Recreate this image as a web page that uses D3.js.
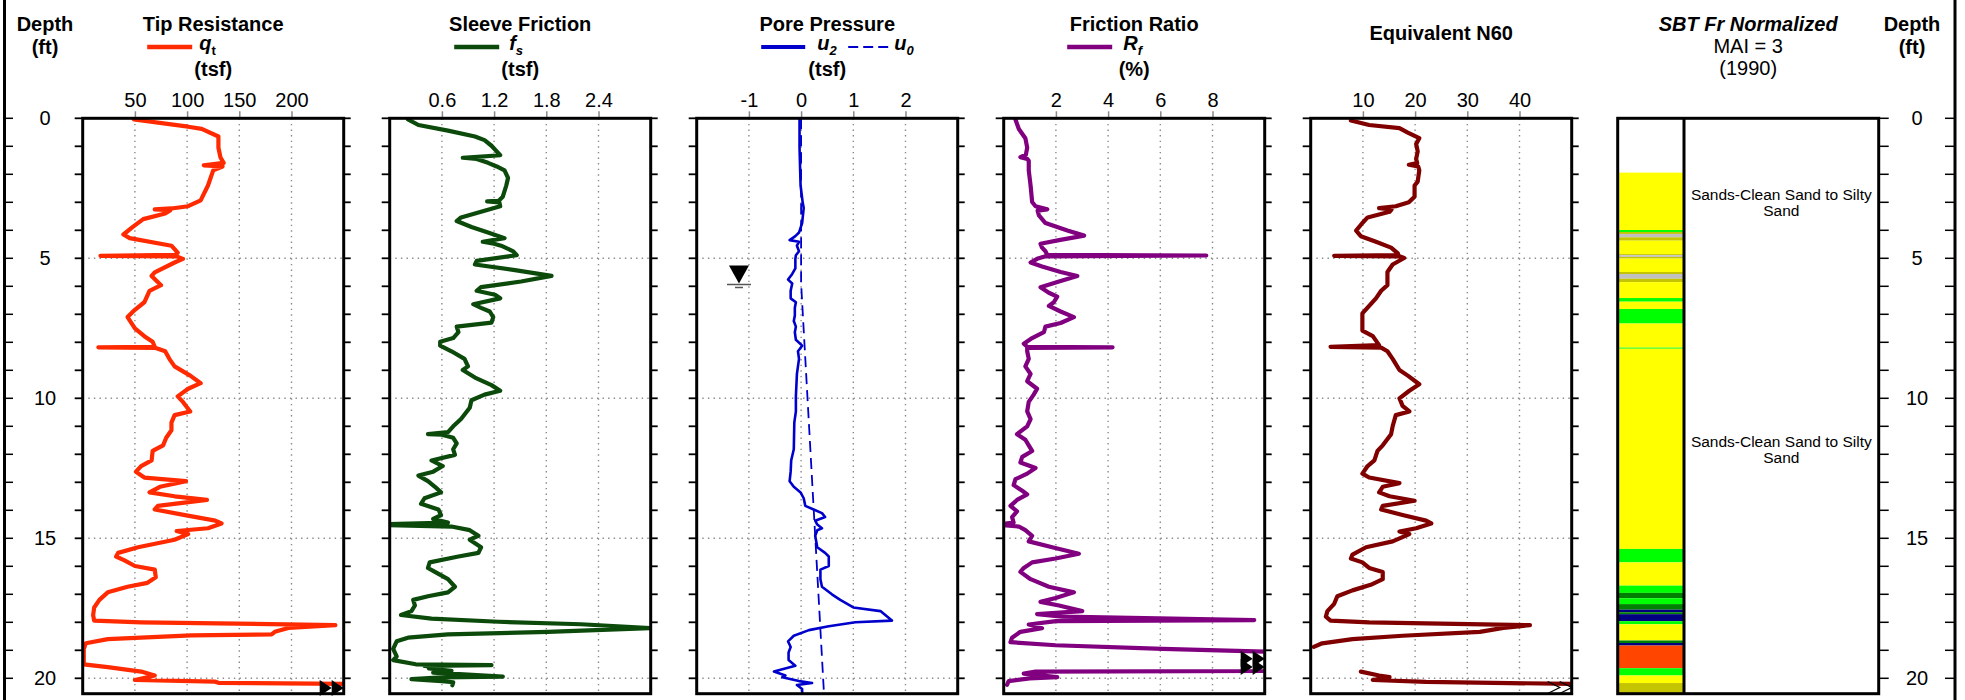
<!DOCTYPE html>
<html><head><meta charset="utf-8">
<script src="https://cdn.jsdelivr.net/npm/d3@7"></script>
<style>
body{margin:0;background:#fff}
svg{display:block}
text{font-family:"Liberation Sans",Arial,sans-serif;fill:#000}
</style>
</head><body>
<svg id="c" width="1965" height="700"></svg>
<script>
// ---------------- DATA ----------------
const depthTickLabels = [0, 5, 10, 15, 20];
const depthMax = 20.55;
const waterTableDepth = 5.9;

const panelTitles = ["Tip Resistance", "Sleeve Friction", "Pore Pressure", "Friction Ratio", "Equivalent N60"];
const panelUnits  = ["(tsf)", "(tsf)", "(tsf)", "(%)", ""];
const xDomains    = [[0, 250], [0, 3], [-2, 3], [0, 10], [0, 50]];
const qtTicks  = [50, 100, 150, 200];
const fsTicks  = [0.6, 1.2, 1.8, 2.4];
const u2Ticks  = [-1, 0, 1, 2];
const rfTicks  = [2, 4, 6, 8];
const n60Ticks = [10, 20, 30, 40];

// [depth ft, value]
const qt = [[0.04,49],[0.3,101],[0.38,114],[0.65,130],[1.05,130],[1.4,132],[1.59,135],[1.68,116],[1.72,134],[1.86,125],[2.4,120],[2.93,113],[3.14,101],[3.22,85],[3.25,69],[3.28,84],[3.4,79],[3.6,58],[3.88,48],[4.15,39],[4.28,45],[4.55,85],[4.8,91],[4.88,88],[4.91,17],[4.93,90],[5.02,96],[5.15,88],[5.5,69],[5.63,66],[5.96,75],[6.16,64],[6.57,59],[6.84,50],[7.1,43],[7.5,50],[7.78,59],[7.98,67],[8.16,69],[8.18,15],[8.2,70],[8.32,79],[8.59,83],[8.86,88],[9.19,103],[9.46,113],[9.66,101],[9.93,91],[10.13,96],[10.47,103],[10.6,88],[10.87,85],[11.14,85],[11.41,80],[11.68,77],[11.88,67],[12.22,66],[12.42,56],[12.62,51],[12.83,59],[12.96,99],[13.16,74],[13.36,64],[13.5,88],[13.63,119],[13.84,72],[13.97,69],[14.17,98],[14.37,127],[14.47,133],[14.64,120],[14.74,90],[14.85,101],[15.05,88],[15.32,53],[15.52,34],[15.65,32],[15.79,40],[15.99,50],[16.12,69],[16.39,70],[16.59,62],[16.73,43],[16.93,24],[17.2,16],[17.47,11],[17.74,10],[17.94,11],[18.0,56],[18.1,242],[18.2,197],[18.34,184],[18.43,181],[18.47,104],[18.6,24],[18.75,3],[18.95,1],[19.5,1],[19.6,24],[19.76,56],[19.9,69],[20.06,50],[20.12,127],[20.16,130],[20.2,250],[20.35,300]];

const fs = [[0.04,0.21],[0.24,0.33],[0.44,0.67],[0.65,0.98],[0.78,1.09],[0.98,1.17],[1.18,1.23],[1.32,1.27],[1.41,0.84],[1.45,1.0],[1.59,1.13],[1.72,1.23],[1.86,1.32],[2.13,1.36],[2.4,1.34],[2.8,1.30],[2.95,1.25],[2.97,1.12],[3.0,1.26],[3.14,1.27],[3.34,1.05],[3.54,0.82],[3.67,0.77],[3.88,0.94],[4.08,1.13],[4.28,1.32],[4.41,1.07],[4.48,1.2],[4.55,1.28],[4.75,1.42],[4.89,1.46],[5.09,1.0],[5.22,0.98],[5.42,1.44],[5.63,1.86],[5.83,1.51],[6.03,1.05],[6.16,1.0],[6.3,1.21],[6.43,1.27],[6.64,0.96],[6.77,1.05],[6.9,1.15],[7.1,1.19],[7.3,1.17],[7.44,0.77],[7.64,0.79],[7.85,0.73],[7.98,0.58],[8.12,0.58],[8.32,0.71],[8.59,0.86],[8.86,0.90],[8.99,0.84],[9.26,0.98],[9.53,1.17],[9.73,1.27],[9.87,1.09],[10.07,0.94],[10.34,0.92],[10.74,0.82],[11.0,0.73],[11.21,0.67],[11.28,0.44],[11.3,0.6],[11.41,0.73],[11.61,0.77],[11.82,0.73],[12.02,0.75],[12.22,0.48],[12.42,0.61],[12.62,0.50],[12.76,0.33],[12.96,0.44],[13.16,0.52],[13.36,0.59],[13.57,0.40],[13.77,0.36],[13.97,0.56],[14.17,0.59],[14.31,0.50],[14.44,0.67],[14.5,-0.1],[14.52,-0.1],[14.58,0.71],[14.71,0.92],[14.91,1.02],[15.05,0.92],[15.32,1.05],[15.52,1.02],[15.65,0.79],[15.86,0.46],[16.06,0.44],[16.2,0.52],[16.46,0.67],[16.73,0.75],[16.93,0.67],[17.07,0.44],[17.2,0.27],[17.4,0.29],[17.6,0.25],[17.74,0.13],[17.87,0.48],[17.98,1.25],[18.07,2.2],[18.21,2.99],[18.34,1.82],[18.43,0.67],[18.55,0.21],[18.68,0.08],[18.95,0.04],[19.22,0.08],[19.35,0.04],[19.5,0.3],[19.53,1.17],[19.56,0.4],[19.6,0.56],[19.65,0.45],[19.73,0.71],[19.8,0.5],[19.94,1.3],[19.97,0.6],[20.03,0.25],[20.1,0.6],[20.14,0.73],[20.25,0.72]];

const u2 = [[0.04,-0.03],[1.05,-0.03],[2.4,-0.01],[3.0,0.03],[3.2,0.05],[3.74,0.02],[4.08,-0.04],[4.21,-0.11],[4.35,-0.22],[4.41,-0.04],[4.55,-0.08],[4.75,-0.04],[4.89,-0.1],[5.02,-0.11],[5.36,-0.11],[5.56,-0.17],[5.76,-0.25],[5.9,-0.17],[6.16,-0.2],[6.43,-0.2],[6.57,-0.1],[6.77,-0.12],[7.04,-0.12],[7.24,-0.14],[7.44,-0.1],[7.64,-0.12],[7.91,-0.1],[8.12,0.02],[8.32,-0.06],[8.59,-0.04],[9.13,-0.08],[9.93,-0.1],[10.47,-0.1],[10.87,-0.13],[11.82,-0.14],[12.22,-0.19],[12.62,-0.2],[12.96,-0.22],[13.16,-0.14],[13.36,-0.01],[13.57,0.05],[13.84,0.08],[13.97,0.24],[14.1,0.4],[14.24,0.46],[14.37,0.27],[14.51,0.31],[14.64,0.4],[14.71,0.31],[14.91,0.27],[15.32,0.31],[15.52,0.46],[15.65,0.53],[15.99,0.53],[16.12,0.37],[16.46,0.37],[16.73,0.4],[17.0,0.59],[17.2,0.75],[17.47,1.0],[17.6,1.52],[17.94,1.74],[18.0,1.04],[18.14,0.53],[18.28,0.15],[18.48,-0.14],[18.68,-0.25],[18.88,-0.2],[19.08,-0.24],[19.35,-0.24],[19.55,-0.11],[19.76,-0.52],[19.9,-0.3],[19.96,-0.36],[20.1,-0.04],[20.17,0.21],[20.24,-0.08],[20.38,0.02],[20.6,0.02]];

const u0 = [[0,0],[5.9,0],[20.6,0.44]];

const rf = [[0.04,0.45],[0.38,0.58],[0.71,0.83],[1.05,0.9],[1.3,0.85],[1.39,0.64],[1.45,0.9],[1.52,0.96],[1.86,0.96],[2.4,1.03],[2.99,1.09],[3.14,1.22],[3.25,1.67],[3.3,1.3],[3.47,1.35],[3.74,1.6],[4.01,2.44],[4.19,3.08],[4.35,2.12],[4.48,1.41],[4.62,1.47],[4.75,1.6],[4.88,1.67],[4.9,7.76],[4.93,1.6],[5.02,1.28],[5.15,1.03],[5.29,1.47],[5.49,2.18],[5.63,2.82],[5.83,2.12],[6.03,1.41],[6.23,1.73],[6.37,2.05],[6.57,1.92],[6.7,1.73],[6.9,2.18],[7.1,2.69],[7.31,2.18],[7.44,1.6],[7.64,1.54],[7.85,1.09],[8.05,0.77],[8.16,0.9],[8.18,4.17],[8.2,0.9],[8.32,0.9],[8.59,0.96],[8.86,0.83],[9.13,1.03],[9.39,0.9],[9.66,1.28],[9.87,1.15],[10.13,0.96],[10.47,0.9],[10.74,1.03],[11.0,0.9],[11.28,0.51],[11.48,0.83],[11.68,0.96],[11.88,1.09],[12.09,0.71],[12.29,0.64],[12.49,1.22],[12.69,0.9],[12.89,0.45],[13.1,0.38],[13.3,0.71],[13.43,0.9],[13.63,0.51],[13.84,0.26],[14.04,0.51],[14.24,0.32],[14.44,0.38],[14.5,-0.2],[14.52,-0.2],[14.58,0.58],[14.71,0.83],[14.91,1.09],[15.11,0.96],[15.32,1.86],[15.55,2.88],[15.72,1.99],[15.86,1.09],[16.06,0.77],[16.2,0.64],[16.46,1.03],[16.73,1.73],[16.93,2.69],[17.13,1.99],[17.27,1.41],[17.4,2.12],[17.6,3.01],[17.71,1.28],[17.8,2.24],[17.92,9.6],[17.96,2.0],[18.08,0.96],[18.21,1.47],[18.34,0.64],[18.55,0.32],[18.71,0.26],[18.82,1.99],[18.95,6.09],[19.05,10.0],[19.3,11.5],[19.6,11.5],[19.74,10.0],[19.76,1.22],[19.83,0.77],[19.96,2.05],[20.0,1.0],[20.1,0.19],[20.23,0.13]];

const n60 = [[0.08,7.7],[0.24,11.2],[0.35,17],[0.51,18.6],[0.71,20.8],[0.92,20.2],[1.18,20.5],[1.45,20.2],[1.6,20.4],[1.66,18.8],[1.72,20.6],[1.86,20.8],[2.26,20.5],[2.4,19.9],[2.8,19.9],[3.0,18.8],[3.14,16.3],[3.21,13.1],[3.25,15.5],[3.34,15.1],[3.54,10.9],[3.74,9.9],[4.01,8.7],[4.21,9.6],[4.41,12.5],[4.62,15.4],[4.82,16.7],[4.89,16.8],[4.91,4.5],[4.93,17],[4.99,17.9],[5.22,15.7],[5.49,14.7],[5.96,14.7],[6.16,13.5],[6.43,12.5],[6.7,11.2],[6.97,9.9],[7.58,9.9],[7.78,11.9],[8.1,13.1],[8.16,3.8],[8.19,13.5],[8.32,14.7],[8.59,15.7],[8.99,17.0],[9.19,18.6],[9.5,20.8],[9.73,18.9],[10.0,17],[10.27,17.6],[10.47,18.9],[10.6,16.3],[11.0,15.7],[11.28,15.4],[11.68,13.8],[11.88,12.8],[12.22,12.2],[12.42,10.9],[12.69,9.9],[12.83,11.2],[13.03,17],[13.16,13.8],[13.36,13.1],[13.5,15.1],[13.66,19.9],[13.84,13.8],[13.97,13.5],[14.17,17.6],[14.37,22.1],[14.47,23.1],[14.64,20.2],[14.76,17],[14.85,18.9],[15.11,15.7],[15.32,10.6],[15.58,8],[15.72,7.7],[15.86,9.9],[16.06,11.2],[16.2,13.8],[16.46,13.8],[16.66,11.5],[16.86,8],[17.07,5.1],[17.34,4.5],[17.6,3.2],[17.8,2.9],[17.94,3.8],[18.0,11.2],[18.1,42],[18.2,36.9],[18.34,32.4],[18.48,17.6],[18.6,8],[18.75,2.2],[18.88,0.6],[18.95,null],[19.76,9.6],[19.9,13.1],[19.96,15.1],[20.06,11.9],[20.13,22.1],[20.2,50],[20.33,60]];

// SBT layers [top depth, bottom depth, zone]
const sbtLayers = [[1.94,3.99,"sand"],[3.99,4.06,"gsand"],[4.06,4.13,"smix"],[4.13,4.25,"smix2"],[4.25,4.37,"smix"],[4.37,4.85,"sand"],[4.85,4.89,"smix"],[4.89,4.95,"smix2"],[4.95,5.01,"smix"],[5.01,5.49,"sand"],[5.49,5.56,"smix"],[5.56,5.73,"smix2"],[5.73,5.85,"smix"],[5.85,6.42,"sand"],[6.42,6.55,"gsand"],[6.55,6.81,"sand"],[6.81,7.33,"gsand"],[7.33,8.19,"sand"],[8.19,8.23,"gsand"],[8.23,15.38,"sand"],[15.38,15.86,"gsand"],[15.86,16.69,"sand"],[16.69,16.95,"gsand"],[16.95,17.14,"dense"],[17.14,17.35,"gsand"],[17.35,17.55,"dense"],[17.55,17.64,"clay"],[17.64,17.71,"dense"],[17.71,17.96,"clay"],[17.96,18.07,"gsand"],[18.07,18.65,"sand"],[18.65,18.74,"dense"],[18.74,18.83,"clay"],[18.83,19.64,"organic"],[19.64,19.9,"gsand"],[19.9,20.17,"sand"],[20.17,20.6,"smix"]];
const sbtZones  = ["sand","gsand","smix","smix2","dense","clay","organic"];
const sbtColors = ["#ffff00","#00ff00","#c4c400","#c0c0c0","#008000","#000080","#ff4500"];
const sbtLabels = [[2.92, "Sands-Clean Sand to Silty", "Sand"], [11.74, "Sands-Clean Sand to Silty", "Sand"]];

// ---------------- DRAW ----------------
const svg = d3.select("#c");
const font = '"Liberation Sans",Arial,sans-serif';
const y = d3.scaleLinear().domain([0, depthMax]).range([118.3, 693.7]);
const panelW = 261, x0 = 82.7, step = 307;
const left = i => x0 + step * i;
const boxTop = y(0), boxBot = y(depthMax);
const feet = d3.range(0, 21);

const seriesList = [qt, fs, u2, rf, n60];
const tickList = [qtTicks, fsTicks, u2Ticks, rfTicks, n60Ticks];
const colors = ["#ff2a00", "#0b4a0b", "#0000cc", "#800080", "#800000"];
const widths = [4.2, 4.2, 2.6, 4.2, 4.2];

const defs = svg.append("defs");

// outer frame
svg.append("line").attr("x1", 4.5).attr("x2", 4.5).attr("y1", 0).attr("y2", 700).attr("stroke", "#000").attr("stroke-width", 3);
svg.append("line").attr("x1", 1955).attr("x2", 1955).attr("y1", 0).attr("y2", 700).attr("stroke", "#000").attr("stroke-width", 3);
svg.selectAll(".ftl").data(feet).join("line").attr("x1", 4.5).attr("x2", 13).attr("y1", d => y(d)).attr("y2", d => y(d)).attr("stroke", "#000").attr("stroke-width", 1.5);
svg.selectAll(".ftr").data(feet).join("line").attr("x1", 1945).attr("x2", 1955).attr("y1", d => y(d)).attr("y2", d => y(d)).attr("stroke", "#000").attr("stroke-width", 1.5);

// depth titles and labels
[[45, 31, "Depth"], [45, 54, "(ft)"], [1912, 31, "Depth"], [1912, 54, "(ft)"]].forEach(t => {
  svg.append("text").attr("x", t[0]).attr("y", t[1]).attr("text-anchor", "middle").attr("font-size", 20).attr("font-weight", "bold").text(t[2]);
});
depthTickLabels.forEach(d => {
  svg.append("text").attr("x", 45).attr("y", y(d) + 7).attr("text-anchor", "middle").attr("font-size", 20).text(d);
  svg.append("text").attr("x", 1917).attr("y", y(d) + 7).attr("text-anchor", "middle").attr("font-size", 20).text(d);
});

function tris(g, xr, yc, filled) {
  [xr - 24, xr - 12].forEach(xs => {
    if (filled) {
      g.append("path").attr("d", `M${xs},${yc - 8}L${xs + 12},${yc}L${xs},${yc + 8}Z`).attr("fill", "#000");
    } else {
      g.append("path").attr("d", `M${xs},${yc - 6}L${xs + 12},${yc}L${xs},${yc + 6}`).attr("fill", "none").attr("stroke", "#000").attr("stroke-width", 1.3);
    }
  });
}

for (let i = 0; i < 5; i++) {
  const L = left(i), R = L + panelW, c = L + panelW / 2;
  const x = d3.scaleLinear().domain(xDomains[i]).range([L, R]);
  const g = svg.append("g");

  g.append("text").attr("x", c).attr("y", i === 4 ? 40 : 30.5).attr("text-anchor", "middle").attr("font-size", 20).attr("font-weight", "bold").text(panelTitles[i]);
  if (panelUnits[i]) g.append("text").attr("x", c).attr("y", 76).attr("text-anchor", "middle").attr("font-size", 20).attr("font-weight", "bold").text(panelUnits[i]);

  g.selectAll(".vg").data(tickList[i]).join("line").attr("x1", d => x(d)).attr("x2", d => x(d)).attr("y1", boxTop).attr("y2", boxBot)
    .attr("stroke", "#8a8a8a").attr("stroke-width", 1.4).attr("stroke-dasharray", "1.4 4.2");
  g.selectAll(".hg").data(depthTickLabels.filter(d => d > 0)).join("line").attr("x1", L).attr("x2", R).attr("y1", d => y(d)).attr("y2", d => y(d))
    .attr("stroke", "#8a8a8a").attr("stroke-width", 1.4).attr("stroke-dasharray", "1.4 4.2");

  const ax = g.append("g").attr("transform", `translate(0,${boxTop})`)
    .call(d3.axisTop(x).tickValues(tickList[i]).tickSize(7).tickPadding(4).tickFormat(d => String(d)));
  ax.select(".domain").remove();
  ax.selectAll("line").attr("stroke", "#8a8a8a").attr("stroke-width", 1.5);
  ax.selectAll("text").attr("font-size", 20).attr("font-family", font).attr("fill", "#000");

  defs.append("clipPath").attr("id", "cp" + i).append("rect").attr("x", L).attr("y", boxTop).attr("width", panelW).attr("height", boxBot - boxTop);
  const cg = g.append("g").attr("clip-path", `url(#cp${i})`);
  const line = d3.line().defined(d => d[1] !== null).x(d => x(d[1])).y(d => y(d[0]));

  if (i === 2) {
    cg.append("path").datum(u0).attr("d", line).attr("fill", "none").attr("stroke", colors[2]).attr("stroke-width", 1.8).attr("stroke-dasharray", "11 6");
  }
  cg.append("path").datum(seriesList[i]).attr("d", line).attr("fill", "none").attr("stroke", colors[i])
    .attr("stroke-width", widths[i]).attr("stroke-linejoin", "round").attr("stroke-linecap", "round");

  const maxV = xDomains[i][1];
  seriesList[i].filter(d => d[1] !== null && d[1] > maxV).forEach(d => tris(g, R, y(d[0]), i !== 4));

  g.append("rect").attr("x", L).attr("y", boxTop).attr("width", panelW).attr("height", boxBot - boxTop).attr("fill", "none").attr("stroke", "#000").attr("stroke-width", 3);
  g.selectAll(".lt").data(feet).join("line").attr("x1", L - 8).attr("x2", L).attr("y1", d => y(d)).attr("y2", d => y(d)).attr("stroke", "#000").attr("stroke-width", 1.8);
  g.selectAll(".rt").data(feet).join("line").attr("x1", R).attr("x2", R + 7).attr("y1", d => y(d)).attr("y2", d => y(d)).attr("stroke", "#000").attr("stroke-width", 1.8);

  const ly = 47;
  function legLine(x1, x2, dash, w) {
    g.append("line").attr("x1", x1).attr("x2", x2).attr("y1", ly).attr("y2", ly).attr("stroke", colors[i]).attr("stroke-width", w).attr("stroke-dasharray", dash || null);
  }
  function legText(xp, main, sub, subItalic) {
    const t = g.append("text").attr("x", xp).attr("y", 50).attr("font-size", 20).attr("font-weight", "bold").attr("font-style", "italic").text(main);
    t.append("tspan").attr("dy", 5).attr("font-size", 13).attr("font-style", subItalic ? "italic" : "normal").text(sub);
  }
  if (i === 0) { legLine(c - 66, c - 21, null, 4.5); legText(c - 14, "q", "t", false); }
  if (i === 1) { legLine(c - 66, c - 21, null, 4.5); legText(c - 11, "f", "s", true); }
  if (i === 2) { legLine(c - 66, c - 22, null, 4); legText(c - 10, "u", "2", true); legLine(c + 21, c + 64, "10 5", 2); legText(c + 67, "u", "0", true); }
  if (i === 3) { legLine(c - 67, c - 22, null, 4.5); legText(c - 11, "R", "f", true); }

  if (i === 2) {
    const cx = x(-1.19), ty = y(waterTableDepth);
    g.append("path").attr("d", `M${cx - 10},${ty - 18}L${cx + 10},${ty - 18}L${cx},${ty}Z`).attr("fill", "#000");
    g.append("line").attr("x1", cx - 12).attr("x2", cx + 12).attr("y1", ty + 1).attr("y2", ty + 1).attr("stroke", "#555").attr("stroke-width", 1.5);
    g.append("line").attr("x1", cx - 4).attr("x2", cx + 4).attr("y1", ty + 4).attr("y2", ty + 4).attr("stroke", "#555").attr("stroke-width", 1.5);
  }
}

// SBT panel
{
  const L = left(5), R = 1878.7, c = L + panelW / 2, div = 1684;
  const color = d3.scaleOrdinal().domain(sbtZones).range(sbtColors);
  const g = svg.append("g");
  g.append("text").attr("x", c).attr("y", 30.5).attr("text-anchor", "middle").attr("font-size", 20).attr("font-weight", "bold").attr("font-style", "italic").text("SBT Fr Normalized");
  g.append("text").attr("x", c).attr("y", 53).attr("text-anchor", "middle").attr("font-size", 20).text("MAI = 3");
  g.append("text").attr("x", c).attr("y", 75).attr("text-anchor", "middle").attr("font-size", 20).text("(1990)");
  defs.append("clipPath").attr("id", "cp5").append("rect").attr("x", L).attr("y", boxTop).attr("width", div - L).attr("height", boxBot - boxTop);
  g.append("g").attr("clip-path", "url(#cp5)").selectAll("rect").data(sbtLayers).join("rect")
    .attr("x", L).attr("width", div - L).attr("y", d => y(d[0])).attr("height", d => y(d[1]) - y(d[0])).attr("fill", d => color(d[2]));
  g.append("rect").attr("x", L).attr("y", boxTop).attr("width", R - L).attr("height", boxBot - boxTop).attr("fill", "none").attr("stroke", "#000").attr("stroke-width", 3);
  g.append("line").attr("x1", div).attr("x2", div).attr("y1", boxTop).attr("y2", boxBot).attr("stroke", "#000").attr("stroke-width", 3);
  g.selectAll(".rt").data(feet).join("line").attr("x1", R).attr("x2", R + 10).attr("y1", d => y(d)).attr("y2", d => y(d)).attr("stroke", "#000").attr("stroke-width", 1.5);
  const lc = (div + R) / 2;
  sbtLabels.forEach(l => {
    g.append("text").attr("x", lc).attr("y", y(l[0])).attr("text-anchor", "middle").attr("font-size", 15.5).attr("fill", "#222").text(l[1]);
    g.append("text").attr("x", lc).attr("y", y(l[0]) + 16).attr("text-anchor", "middle").attr("font-size", 15.5).attr("fill", "#222").text(l[2]);
  });
}
</script>
</body></html>
